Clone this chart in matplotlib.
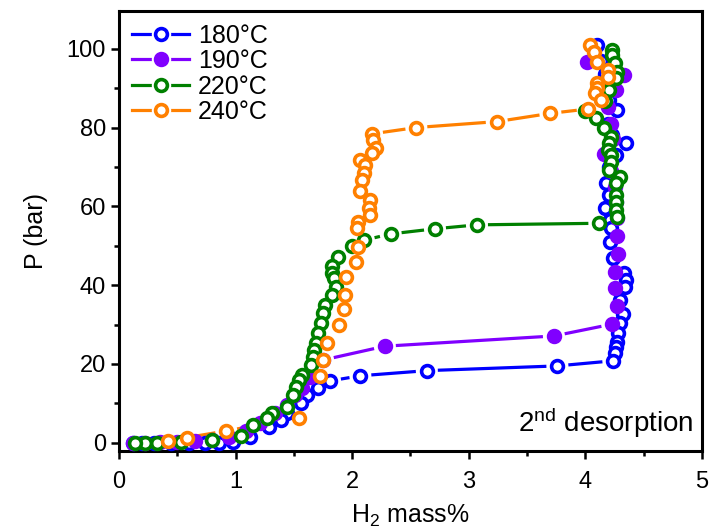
import numpy as np
import matplotlib
matplotlib.use("Agg")
import matplotlib.pyplot as plt
from matplotlib.collections import LineCollection
from matplotlib.lines import Line2D

plt.rcParams['font.family'] = ['Liberation Sans', 'DejaVu Sans']
plt.rcParams['mathtext.fontset'] = 'custom'
plt.rcParams['mathtext.rm'] = 'Liberation Sans'
plt.rcParams['mathtext.default'] = 'regular'

# 2nd desorption isotherms, H2 mass% vs P (bar)
labels = ['180°C', '190°C', '220°C', '240°C']
colors = ['#0000ff', '#8000ff', '#008000', '#ff8000']
filled = [False, True, False, False]

x180 = [4.10, 4.13, 4.17, 4.18, 4.20, 4.27, 4.19, 4.23, 4.35, 4.26, 4.20, 4.18, 4.20, 4.17, 4.21, 4.22,
        4.21, 4.24, 4.33, 4.35, 4.34, 4.30, 4.32, 4.30, 4.28, 4.27, 4.26, 4.25, 4.24, 3.76, 2.64, 2.07,
        1.81, 1.71, 1.61, 1.56, 1.44, 1.39, 1.29, 1.12, 0.98, 0.86, 0.74, 0.60, 0.45, 0.30, 0.20, 0.12]
p180 = [100.9, 97.0, 93.5, 90.0, 87.0, 84.4, 81.0, 78.0, 76.0, 73.0, 70.0, 66.0, 63.0, 59.5, 56.5, 54.5,
        51.0, 46.8, 43.0, 41.3, 39.6, 36.2, 32.8, 30.3, 27.8, 25.6, 24.4, 22.7, 20.8, 19.5, 18.3, 17.0,
        15.7, 13.8, 12.1, 10.0, 7.5, 5.8, 4.1, 1.5, 0.3, 0.0, 0.0, 0.0, 0.0, 0.0, 0.0, 0.0]

x190 = [4.01, 4.33, 4.26, 4.19, 4.22, 4.24, 4.16, 4.22, 4.25, 4.26, 4.27, 4.27, 4.28, 4.25, 4.25, 4.27,
        4.23, 3.73, 2.28, 1.75, 1.64, 1.57, 1.51, 1.44, 1.34, 1.21, 1.09, 0.94, 0.80, 0.65, 0.50, 0.35,
        0.22, 0.12]
p190 = [96.7, 93.3, 89.5, 85.3, 81.0, 77.0, 73.4, 69.0, 65.0, 61.0, 57.0, 52.5, 47.8, 43.4, 39.4, 34.7,
        30.1, 27.1, 24.5, 21.0, 16.6, 14.0, 12.0, 9.5, 7.5, 5.0, 3.0, 1.5, 0.8, 0.4, 0.2, 0.1,
        0.0, 0.0]

x220 = [4.23, 4.23, 4.25, 4.27, 4.26, 4.20, 4.17, 4.00, 4.09, 4.16, 4.22, 4.20, 4.19, 4.22, 4.22, 4.20,
        4.30, 4.26, 4.26, 4.26, 4.26, 4.27, 4.12, 3.07, 2.71, 2.33,
        2.10, 2.00, 1.88, 1.83, 1.83, 1.84, 1.86, 1.83, 1.77, 1.75, 1.73, 1.71, 1.69, 1.67, 1.66, 1.65,
        1.57, 1.54, 1.52, 1.49, 1.44, 1.31, 1.27, 1.15, 1.05, 0.80, 0.53, 0.33, 0.22, 0.14]
p220 = [99.7, 98.4, 96.4, 94.1, 92.6, 89.5, 86.7, 84.2, 82.4, 79.9, 77.6, 76.1, 74.3, 73.0, 71.3, 69.2,
        67.4, 65.9, 62.9, 61.1, 59.1, 57.3, 55.7, 55.3, 54.3, 53.0,
        51.4, 49.9, 47.2, 44.9, 43.1, 41.8, 39.6, 37.5, 34.9, 32.9, 30.4, 27.8, 25.3, 23.5, 21.8, 19.7,
        17.2, 15.9, 14.2, 12.1, 9.1, 7.5, 6.3, 4.5, 1.7, 0.7, 0.2, 0.0, 0.0, 0.0]

x240 = [4.04, 4.07, 4.10, 4.19, 4.19, 4.10, 4.10, 4.08, 4.13, 4.02, 3.70, 3.24, 2.55, 2.17, 2.18, 2.20,
        2.17, 2.07, 2.11, 2.10, 2.08, 2.07, 2.15, 2.14, 2.15, 2.05, 2.04, 2.05, 2.03, 1.95, 1.94, 1.93,
        1.89, 1.78, 1.75, 1.72, 1.54, 0.92, 0.58, 0.42]
p240 = [100.9, 99.2, 96.6, 94.6, 92.8, 91.3, 90.0, 88.8, 87.1, 84.7, 83.6, 81.5, 80.0, 78.4, 76.8, 74.7,
        73.5, 71.8, 70.5, 68.4, 66.7, 64.0, 61.6, 59.5, 57.8, 56.1, 54.4, 49.7, 45.9, 42.1, 37.5, 33.9,
        29.9, 25.2, 21.0, 17.0, 6.4, 3.0, 1.3, 0.5]

xs = [x180, x190, x220, x240]
ps = [p180, p190, p220, p240]

ms = 8.5
mew = 2.6
lw = 2.3
gap = 11  # px from marker centre where the line stops


def gapped_line(ax, x, y, color):
    # Origin-style line: break the segments around every marker
    pts = ax.transData.transform(np.column_stack([x, y]))
    inv = ax.transData.inverted()
    segs = []
    for a, b in zip(pts[:-1], pts[1:]):
        d = b - a
        L = np.hypot(d[0], d[1])
        if L > 2 * gap + 2:
            u = d / L
            segs.append(inv.transform(np.array([a + u * gap, b - u * gap])))
    ax.add_collection(LineCollection(segs, colors=color, linewidths=lw, capstyle='butt'))


fig = plt.figure(figsize=(7.1, 5.28), dpi=100)
ax = fig.add_axes([0.1676, 0.1458, 0.8211, 0.8343])
ax.set_xlim(0, 5)
ax.set_ylim(-2.1, 109.7)

for i in range(4):
    gapped_line(ax, xs[i], ps[i], colors[i])
    fc = colors[i] if filled[i] else 'white'
    ax.plot(xs[i], ps[i], ls='none', marker='o', ms=ms, mfc=fc, mec=colors[i], mew=mew, zorder=3 + i)

ax.set_xticks([0, 1, 2, 3, 4, 5])
ax.set_xticks(np.arange(0.5, 5, 1), minor=True)
ax.set_yticks([0, 20, 40, 60, 80, 100])
ax.set_yticks(np.arange(10, 110, 20), minor=True)
ax.tick_params(which='both', direction='out', width=1.8, labelsize=17, top=False, right=False)
ax.tick_params(which='major', length=5.5, pad=4)
ax.tick_params(axis='x', which='major', pad=9)
ax.tick_params(which='minor', length=3.5)
for s in ax.spines.values():
    s.set_linewidth(2.2)

ax.set_xlabel('H$_2$ mass%', fontsize=18, labelpad=7)
ax.set_ylabel('P (bar)', fontsize=18, labelpad=13)

ax.text(4.93, 2.8, '2$^{nd}$ desorption', fontsize=20, ha='right', va='baseline')

handles = []
for i in range(4):
    fc = colors[i] if filled[i] else 'white'
    handles.append((Line2D([], [], color=colors[i], lw=lw),
                    Line2D([], [], ls='none', marker='o', ms=13, mfc='white', mec='white'),
                    Line2D([], [], ls='none', marker='o', ms=ms, mfc=fc, mec=colors[i], mew=mew)))
ax.legend(handles, labels, loc='upper left', bbox_to_anchor=(0.022, 0.97), frameon=False,
          fontsize=18, borderpad=0, borderaxespad=0, handlelength=2.3, handletextpad=0.35,
          labelspacing=0.06)

fig.savefig('out.png', dpi=100)
